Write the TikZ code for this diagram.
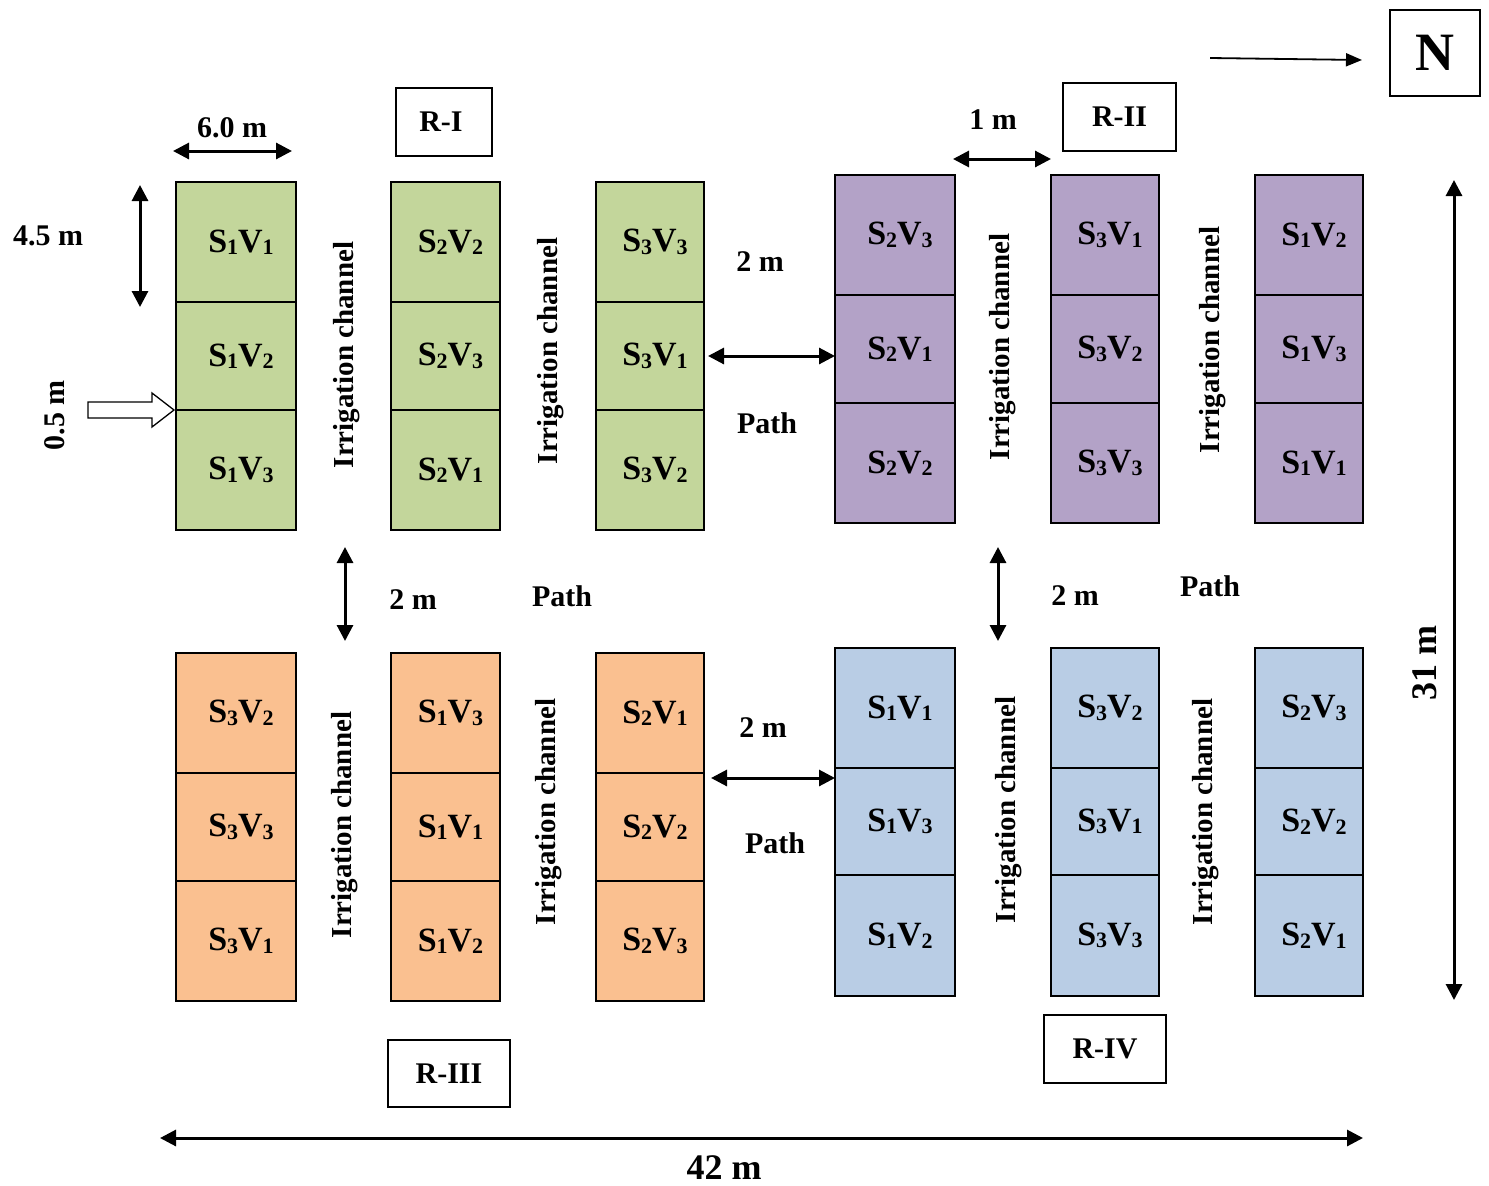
\documentclass[tikz,border=0pt]{standalone}
\usepackage{fontspec}
\setmainfont{Liberation Serif}
\usetikzlibrary{arrows.meta}
\definecolor{cgreen}{HTML}{C3D69B}
\definecolor{cpurple}{HTML}{B3A2C7}
\definecolor{corange}{HTML}{FAC090}
\definecolor{cblue}{HTML}{B9CDE5}
\newcommand{\subdig}[1]{\raisebox{-2.5pt}{\fontsize{22}{24}\selectfont #1}}
\newcommand{\sv}[2]{S\subdig{#1}V\subdig{#2}}
\begin{document}
\begin{tikzpicture}[x=1pt,y=-1pt,
  cell/.style={draw=black,line width=1.6pt,inner sep=0pt,outer sep=0pt,
    font=\fontsize{34}{38}\selectfont\bfseries},
  lbl/.style={font=\fontsize{30}{34}\selectfont\bfseries,inner sep=0pt},
  rbox/.style={draw=black,line width=1.3pt,inner sep=0pt,font=\fontsize{30}{34}\selectfont\bfseries},
  chan/.style={font=\fontsize{29}{33}\selectfont\bfseries,rotate=90,inner sep=0pt},
  dim/.style={line width=3pt,{Triangle[length=16pt,width=16pt]}-{Triangle[length=16pt,width=16pt]}},
]
\useasboundingbox (0,0) rectangle (1489,1186);

% ---------- green block (R-I)
\foreach \nm/\x/\w/\y/\h/\t in {
  g11/236/120/242/120/{\sv11}, g12/236/120/356/108/{\sv12}, g13/236/120/470/120/{\sv13},
  g21/445.5/109/242/120/{\sv22}, g22/445.5/109/356/108/{\sv23}, g23/445.5/109/470/120/{\sv21},
  g31/650/108/242/120/{\sv33}, g32/650/108/356/108/{\sv31}, g33/650/108/470/120/{\sv32}}
  \node[cell,fill=cgreen,minimum width=\w,minimum height=\h] (\nm) at (\x,\y) {\hspace*{10pt}\t};

% ---------- purple block (R-II)
\foreach \nm/\x/\w/\y/\h/\t in {
  p11/895/120/235/120/{\sv23}, p12/895/120/349/108/{\sv21}, p13/895/120/463/120/{\sv22},
  p21/1105/108/235/120/{\sv31}, p22/1105/108/349/108/{\sv32}, p23/1105/108/463/120/{\sv33},
  p31/1309/108/235/120/{\sv12}, p32/1309/108/349/108/{\sv13}, p33/1309/108/463/120/{\sv11}}
  \node[cell,fill=cpurple,minimum width=\w,minimum height=\h] (\nm) at (\x,\y) {\hspace*{10pt}\t};

% ---------- orange block (R-III)
\foreach \nm/\x/\w/\y/\h/\t in {
  o11/236/120/713/120/{\sv32}, o12/236/120/827/108/{\sv33}, o13/236/120/941/120/{\sv31},
  o21/445.5/109/713/120/{\sv13}, o22/445.5/109/827/108/{\sv11}, o23/445.5/109/941/120/{\sv12},
  o31/650/108/713/120/{\sv21}, o32/650/108/827/108/{\sv22}, o33/650/108/941/120/{\sv23}}
  \node[cell,fill=corange,minimum width=\w,minimum height=\h] (\nm) at (\x,\y) {\hspace*{10pt}\t};

% ---------- blue block (R-IV)
\foreach \nm/\x/\w/\y/\h/\t in {
  b11/895/120/708/120/{\sv11}, b12/895/120/821.5/107/{\sv13}, b13/895/120/935.5/121/{\sv12},
  b21/1105/108/708/120/{\sv32}, b22/1105/108/821.5/107/{\sv31}, b23/1105/108/935.5/121/{\sv33},
  b31/1309/108/708/120/{\sv23}, b32/1309/108/821.5/107/{\sv22}, b33/1309/108/935.5/121/{\sv21}}
  \node[cell,fill=cblue,minimum width=\w,minimum height=\h] (\nm) at (\x,\y) {\hspace*{10pt}\t};

% ---------- replication boxes
\node[rbox,minimum width=96,minimum height=68] (r1) at (444,122) {R-I\hspace*{6pt}};
\node[rbox,minimum width=113,minimum height=68] (r2) at (1119.5,117) {R-II};
\node[rbox,minimum width=122,minimum height=67] (r3) at (449,1073.5) {R-III};
\node[rbox,minimum width=122,minimum height=68] (r4) at (1105,1049) {R-IV};
\node[draw=black,line width=1.3pt,minimum width=90,minimum height=86,inner sep=0pt,
  font=\fontsize{54}{58}\selectfont\bfseries] (north) at (1435,53) {N};

% ---------- irrigation channels
\node[chan] (ch1) at (347,355) {Irrigation channel};
\node[chan] (ch2) at (551,351) {Irrigation channel};
\node[chan] (ch3) at (1003,347) {Irrigation channel};
\node[chan] (ch4) at (1213,340) {Irrigation channel};
\node[chan] (ch5) at (345,825) {Irrigation channel};
\node[chan] (ch6) at (549,812) {Irrigation channel};
\node[chan] (ch7) at (1009,810) {Irrigation channel};
\node[chan] (ch8) at (1206,812) {Irrigation channel};

% ---------- dimension labels
\node[lbl] (t60) at (232,128) {6.0 m};
\node[lbl] (t45) at (48,236) {4.5 m};
\node[lbl,rotate=90] (t05) at (55,415) {0.5 m};
\node[lbl] (t2a) at (760,262) {2 m};
\node[lbl] (pa) at (767,423) {Path};
\node[lbl] (t1) at (993,120) {1 m};
\node[lbl] (t2b) at (413,600) {2 m};
\node[lbl] (pb) at (562,596) {Path};
\node[lbl] (t2c) at (1075,596) {2 m};
\node[lbl] (pc) at (1210,586) {Path};
\node[lbl] (t2d) at (763,728) {2 m};
\node[lbl] (pd) at (775,843) {Path};
\node[font=\fontsize{36}{40}\selectfont\bfseries,rotate=90,inner sep=0pt] (t31) at (1425,663) {31 m};
\node[font=\fontsize{36}{40}\selectfont\bfseries,inner sep=0pt] (t42) at (724,1168) {42 m};

% ---------- dimension arrows
\coordinate (a60l) at (173,151); \coordinate (a60r) at (292,151);
\draw[dim] (a60l) -- (a60r);
\coordinate (a45t) at (140,185); \coordinate (a45b) at (140,307);
\draw[dim] (a45t) -- (a45b);
\draw[dim] ([xshift=4pt]g32.east) -- (p12.west |- g32.east);
\coordinate (a1l) at (953,159); \coordinate (a1r) at (1051,159);
\draw[dim] (a1l) -- (a1r);
\coordinate (v1t) at (345,547); \coordinate (v1b) at (345,641);
\draw[dim] (v1t) -- (v1b);
\coordinate (v2t) at (998,547); \coordinate (v2b) at (998,641);
\draw[dim] (v2t) -- (v2b);
\draw[dim] ([xshift=7pt]o32.east |- 0,778) -- (b12.west |- 0,778);
\coordinate (a31t) at (1454,180); \coordinate (a31b) at (1454,1000);
\draw[dim] (a31t) -- (a31b);
\coordinate (a42l) at (160,1138); \coordinate (a42r) at (1363,1138);
\draw[dim] (a42l) -- (a42r);

% ---------- north arrow
\coordinate (na) at (1210,58);
\draw[line width=1.8pt,-{Triangle[length=16pt,width=13pt]}] (na) -- (1362,60);

% ---------- hollow arrow (0.5 m)
\draw[line width=1.3pt,fill=white] (88,402) -- (152,402) -- (152,393) -- (174,410)
  -- (152,427) -- (152,418) -- (88,418) -- cycle;
\end{tikzpicture}
\end{document}
